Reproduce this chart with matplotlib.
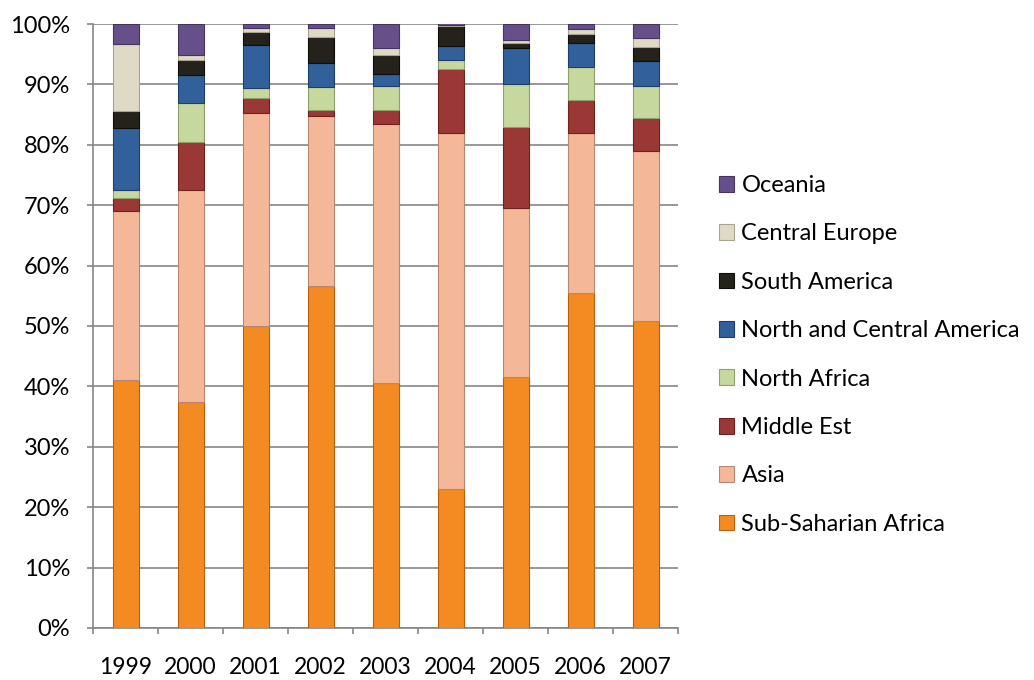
import numpy as np
import matplotlib.pyplot as plt
import matplotlib.ticker as ticker

years = ['1999', '2000', '2001', '2002', '2003', '2004', '2005', '2006', '2007']

# shares in percent, bottom to top
sub_saharan = [41.0, 37.5, 50.0, 56.7, 40.6, 23.0, 41.6, 55.4, 50.9]
asia = [28.0, 35.0, 35.3, 28.1, 42.8, 58.9, 27.9, 26.6, 28.1]
middle_est = [2.2, 7.9, 2.5, 1.0, 2.4, 10.6, 13.5, 5.4, 5.4]
north_africa = [1.3, 6.6, 1.6, 3.7, 3.9, 1.6, 7.0, 5.4, 5.3]
north_central_am = [10.3, 4.6, 7.1, 4.0, 2.1, 2.3, 6.1, 4.1, 4.2]
south_america = [2.8, 2.4, 2.1, 4.4, 3.0, 3.2, 0.8, 1.4, 2.3]
central_europe = [11.1, 0.8, 0.7, 1.4, 1.2, 0.2, 0.5, 0.9, 1.4]
oceania = [3.3, 5.2, 0.7, 0.7, 4.0, 0.4, 2.6, 0.8, 2.4]

series = [
    ('Sub-Saharian Africa', sub_saharan, '#F38B22', '#B8600E'),
    ('Asia', asia, '#F4B898', '#B98770'),
    ('Middle Est', middle_est, '#9A3836', '#6E2321'),
    ('North Africa', north_africa, '#C6D89E', '#8FA06A'),
    ('North and Central America', north_central_am, '#32609A', '#1F3F68'),
    ('South America', south_america, '#24221A', '#0E0D08'),
    ('Central Europe', central_europe, '#DEDAC6', '#A8A490'),
    ('Oceania', oceania, '#67508A', '#45345E'),
]

plt.rcParams['font.family'] = ['Lato', 'DejaVu Sans']

fig = plt.figure(figsize=(10.34, 6.8), dpi=100)
ax = fig.add_axes([93 / 1034, 52 / 680, 585 / 1034, 604 / 680])

x = np.arange(len(years))
bottom = np.zeros(len(years))
handles = []
for name, vals, col, edge in series:
    vals = np.array(vals) / 100.0
    b = ax.bar(x, vals, 0.4, bottom=bottom, color=col, edgecolor=edge,
               linewidth=0.8, label=name, zorder=3)
    handles.append(b)
    bottom += vals

ax.set_xlim(-0.5, len(years) - 0.5)
ax.set_ylim(0, 1)
ax.yaxis.set_major_locator(ticker.MultipleLocator(0.1))
ax.yaxis.set_major_formatter(ticker.PercentFormatter(1.0, decimals=0))
ax.grid(axis='y', color='#868686', linewidth=1.2, zorder=0)

ax.set_xticks(x)
ax.set_xticklabels(years)
ax.set_xticks(np.arange(len(years) + 1) - 0.5, minor=True)
ax.tick_params(axis='x', which='major', length=0, pad=21, labelsize=16.5)
ax.tick_params(axis='x', which='minor', length=4.5, color='#868686', width=1.2)
ax.tick_params(axis='y', length=4.5, color='#868686', width=1.2, pad=12,
               labelsize=17)

for s in ['top', 'right']:
    ax.spines[s].set_visible(False)
for s in ['left', 'bottom']:
    ax.spines[s].set_color('#868686')
    ax.spines[s].set_linewidth(1.2)

fig.legend(handles[::-1], [s[0] for s in series][::-1],
           loc='upper left', bbox_to_anchor=(719 / 1034, 1 - 175 / 680),
           frameon=False, fontsize=17, labelspacing=1.16,
           handlelength=0.65, handleheight=0.65, handletextpad=0.3,
           borderaxespad=0, borderpad=0)

fig.savefig('out.png', dpi=100)
